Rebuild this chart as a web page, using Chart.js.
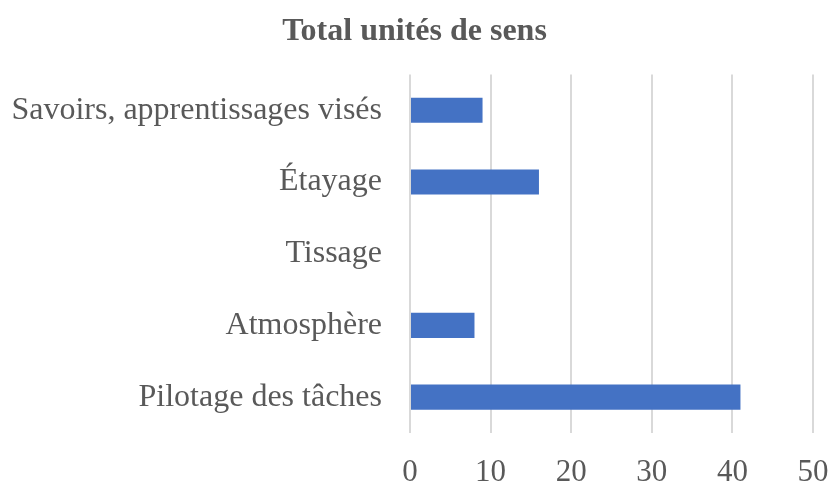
<!DOCTYPE html>
<html>
<head>
<meta charset="utf-8">
<script src="https://cdn.jsdelivr.net/npm/chart.js@4"></script>
<style>
  body { margin: 0; background: #fff; }
  canvas { display: block; }
</style>
</head>
<body>
<canvas id="graficaBarras" width="829" height="489"></canvas>
<script>
// catégories (de haut en bas)
const categories = [
    "Savoirs, apprentissages visés",
    "Étayage",
    "Tissage",
    "Atmosphère",
    "Pilotage des tâches"
];

// valeurs
const totalUnites = [9, 16, 0, 8, 41];

// graduations de l'axe horizontal
const ticksX = [0, 10, 20, 30, 40, 50];

const gris = "#595959";
const police = "'Liberation Serif', 'Times New Roman', serif";

const ctx = document.getElementById("graficaBarras").getContext("2d");

new Chart(ctx, {
    type: "bar",
    data: {
        labels: categories,
        datasets: [{
            label: "Total unités de sens",
            data: totalUnites,
            backgroundColor: "#4472C4",
            borderWidth: 0,
            categoryPercentage: 1,
            barPercentage: 0.35
        }]
    },
    options: {
        indexAxis: "y",
        responsive: false,
        animation: false,
        layout: { padding: { left: 0, right: 0, top: 0, bottom: 0 } },
        plugins: {
            legend: { display: false },
            tooltip: { enabled: false },
            title: {
                display: true,
                text: "Total unités de sens",
                color: gris,
                font: { family: police, size: 32, weight: "bold" },
                padding: { top: 13, bottom: 23 }
            }
        },
        scales: {
            x: {
                min: ticksX[0],
                max: ticksX[ticksX.length - 1],
                afterBuildTicks: (scale) => {
                    scale.ticks = ticksX.map(v => ({ value: v }));
                },
                grid: { color: "#d9d9d9", lineWidth: 2, drawTicks: false },
                border: { display: false },
                ticks: {
                    color: gris,
                    padding: 21,
                    font: { family: police, size: 31 }
                },
                afterFit: (scale) => {
                    scale.height = 56;
                    scale.paddingRight = 16;
                    scale.paddingLeft = 0;
                }
            },
            y: {
                grid: { display: false, drawTicks: false },
                border: { display: false },
                ticks: {
                    color: gris,
                    padding: 28,
                    font: { family: police, size: 32 }
                },
                afterFit: (scale) => { scale.width = 410; }
            }
        }
    }
});
</script>
</body>
</html>
